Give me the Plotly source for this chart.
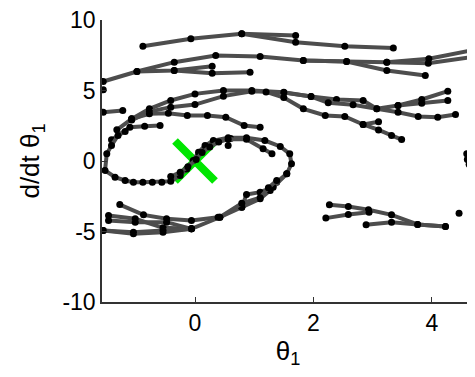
import plotly.graph_objects as go

# Trajectory segments (theta1, d/dt theta1)
A1_x = [-0.88, -0.07, 0.79, 1.70]
A1_y = [8.14, 8.67, 9.02, 8.90]
A2_x = [0.79, 1.70, 2.53, 3.35]
A2_y = [9.02, 8.42, 8.14, 8.02]
B1_x = [-1.55, -0.98, -0.35, 0.35, 1.10, 1.83, 2.56, 3.24, 3.95, 4.67]
B1_y = [5.64, 6.35, 7.01, 7.48, 7.41, 7.13, 7.06, 7.01, 7.25, 7.84]
B2_x = [1.83, 2.56, 3.24, 3.89]
B2_y = [7.13, 7.06, 6.42, 6.06]
B3_x = [3.24, 3.94, 4.67]
B3_y = [7.01, 6.94, 7.36]
C1_x = [-0.98, -0.35, 0.29]
C1_y = [6.35, 6.42, 6.72]
C2_x = [-0.35, 0.29, 0.93]
C2_y = [6.42, 6.23, 6.30]
E_x = [-1.55, -1.22]
E_y = [3.46, 3.58]
D1_x = [-1.32, -1.07, -0.77, -0.41, 0.0, 0.48, 0.96, 1.50, 1.96, 2.39, 2.84, 3.07, 3.43, 3.83, 4.27]
D1_y = [2.21, 2.99, 3.70, 4.29, 4.76, 5.00, 5.00, 4.88, 4.57, 4.36, 4.29, 3.70, 3.94, 4.36, 4.95]
D1b_x = [-1.07, -0.77, -0.41, 0.0, 0.48, 0.96, 1.50, 1.96, 2.25, 2.67, 3.07, 3.43, 3.77, 4.10, 4.40]
D1b_y = [2.90, 3.50, 3.82, 4.00, 4.60, 4.95, 4.85, 4.57, 4.13, 3.99, 3.70, 3.46, 3.16, 3.11, 3.30]
D1c_x = [3.43, 3.83, 4.27]
D1c_y = [3.94, 4.10, 4.29]
D2_x = [1.20, 1.50, 1.83, 2.20, 2.53, 2.84, 3.10, 3.32, 3.49]
D2_y = [4.90, 4.50, 3.70, 3.23, 3.16, 2.59, 2.20, 1.81, 1.52]
D2b_x = [2.84, 3.10]
D2b_y = [2.59, 2.79]
F_x = [-1.07, -0.77, -0.45, -0.13, 0.21, 0.52, 0.83, 1.10]
F_y = [2.99, 3.35, 3.39, 3.23, 3.23, 3.11, 2.52, 2.40]
G_x = [-1.41, -1.10, -0.85, -0.59]
G_y = [1.50, 2.40, 2.47, 2.52]
S1_x = [-1.18, -1.30, -1.41, -1.49, -1.52, -1.35, -1.18, -1.04, -0.88, -0.72, -0.56, -0.41,
        -0.25, -0.14, -0.03, 0.06, 0.17, 0.31, 0.56, 0.87, 1.18, 1.44, 1.60, 1.63, 1.55,
        1.38, 1.27, 1.10, 0.79, 0.42, -0.06, -0.54, -1.04, -1.55]
S1_y = [2.10, 1.81, 1.10, 0.51, -0.67, -1.15, -1.38, -1.50, -1.50, -1.50, -1.50, -1.43,
        -1.03, -0.56, 0.04, 0.62, 1.10, 1.45, 1.65, 1.65, 1.45, 1.03, 0.51, -0.20, -0.91,
        -1.50, -2.09, -2.68, -3.28, -3.99, -4.81, -5.05, -5.16, -4.93]
S2_x = [-0.41, -0.25, -0.12, 0.02, 0.12, 0.25, 0.40, 0.60]
S2_y = [-1.10, -0.80, -0.40, 0.10, 0.60, 1.00, 1.35, 1.60]
S3_x = [0.56, 0.87, 1.15, 1.30]
S3_y = [1.55, 1.55, 0.87, 0.51]
W1_x = [0.79, 0.87, 1.10, 1.32, 1.55]
W1_y = [-3.28, -2.38, -2.21, -1.86, -0.91]
W2_x = [0.42, 0.79, 1.10, 1.24, 1.38]
W2_y = [-3.99, -3.00, -2.60, -1.90, -1.38]
L1_x = [-1.27, -0.87, -0.48, -0.06, 0.39]
L1_y = [-3.09, -3.82, -4.10, -4.22, -3.99]
L2_x = [-1.46, -1.01, -0.54, -0.06]
L2_y = [-3.87, -4.10, -4.74, -4.81]
L3_x = [-1.46, -1.01, -0.48, -0.06]
L3_y = [-4.22, -4.34, -4.34, -4.81]
L4_x = [-1.55, -1.04, -0.54, -0.06]
L4_y = [-4.93, -5.05, -4.93, -4.81]
R1_x = [2.27, 2.59, 2.93, 3.32, 3.76, 4.23]
R1_y = [-3.11, -3.23, -3.46, -3.82, -4.50, -4.65]
R2_x = [2.21, 2.59, 2.94]
R2_y = [-4.05, -3.79, -3.63]
R3_x = [2.89, 3.32, 3.76, 4.23]
R3_y = [-4.52, -4.34, -4.50, -4.65]
Q_x = [4.59, 4.60, 4.63, 4.67]
Q_y = [0.51, 0.10, -0.25, -0.55]
dots_x = [-1.55, 4.46, 0.56]
dots_y = [5.05, -3.70, 1.10]
target_x = [0.0]
target_y = [0.0]

x_ticks = [0, 2, 4]
x_tick_labels = ["0", "2", "4"]
y_ticks = [-10, -5, 0, 5, 10]
y_tick_labels = ["-10", "-5", "0", "5", "10"]

segments = [
    (A1_x, A1_y), (A2_x, A2_y), (B1_x, B1_y), (B2_x, B2_y), (B3_x, B3_y),
    (C1_x, C1_y), (C2_x, C2_y), (E_x, E_y), (D1_x, D1_y), (D1b_x, D1b_y),
    (D1c_x, D1c_y), (D2_x, D2_y), (D2b_x, D2b_y), (F_x, F_y), (G_x, G_y),
    (S1_x, S1_y), (S2_x, S2_y), (S3_x, S3_y), (W1_x, W1_y), (W2_x, W2_y),
    (L1_x, L1_y), (L2_x, L2_y), (L3_x, L3_y), (L4_x, L4_y),
    (R1_x, R1_y), (R2_x, R2_y), (R3_x, R3_y), (Q_x, Q_y),
]

fig = go.Figure()

fig.add_trace(go.Scatter(
    x=target_x, y=target_y, mode="markers",
    marker=dict(symbol="x-thin", size=40, line=dict(color="#00e600", width=8)),
    showlegend=False, hoverinfo="skip"))

for sx, sy in segments:
    fig.add_trace(go.Scatter(
        x=sx, y=sy, mode="lines+markers",
        line=dict(color="#4d4d4d", width=4),
        marker=dict(color="black", size=7),
        showlegend=False))

fig.add_trace(go.Scatter(
    x=dots_x, y=dots_y, mode="markers",
    marker=dict(color="black", size=7), showlegend=False))

font = dict(family="Liberation Sans, Arial, sans-serif", size=23, color="black")

# the page body adds an 8px offset; the figure is sized to fit the 475x377 window
fig.update_layout(
    width=467, height=369,
    margin=dict(l=94, r=1, t=12, b=75),
    paper_bgcolor="white", plot_bgcolor="white",
    font=font,
    xaxis=dict(
        range=[-1.5708, 4.7124], tickvals=x_ticks, ticktext=x_tick_labels,
        showgrid=False, zeroline=False, automargin=False,
        ticklabeloverflow="allow",
        showline=True, linecolor="#333", linewidth=1.5,
        ticks="inside", ticklen=5, tickcolor="#333",
        title=dict(text="θ<sub>1</sub>", font=dict(size=26), standoff=6),
    ),
    yaxis=dict(
        range=[-10, 10], tickvals=y_ticks, ticktext=y_tick_labels,
        showgrid=False, zeroline=False, automargin=False,
        ticklabeloverflow="allow",
        showline=True, linecolor="#333", linewidth=1.5,
        ticks="inside", ticklen=5, tickcolor="#333",
        title=dict(text="d/dt θ<sub>1</sub>", font=dict(size=26), standoff=15),
    ),
)

fig.write_html("out.html")
